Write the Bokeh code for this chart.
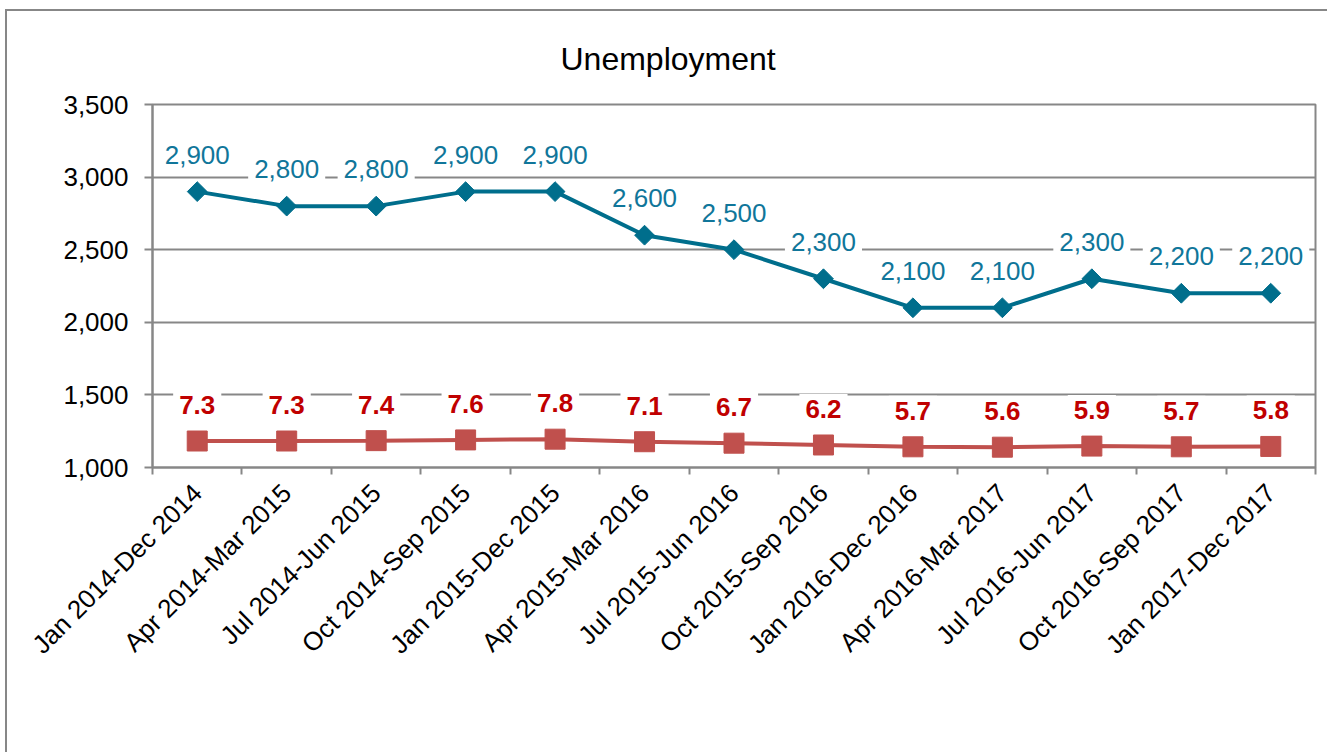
import math

from bokeh.core.properties import value
from bokeh.embed import file_html
from bokeh.models import (ColumnDataSource, FixedTicker, Legend, LegendItem,
                          NumeralTickFormatter, Range1d)
from bokeh.plotting import figure
from bokeh.resources import INLINE

# ---- data -------------------------------------------------------------
periods = [
    "Jan 2014-Dec 2014", "Apr 2014-Mar 2015", "Jul 2014-Jun 2015",
    "Oct 2014-Sep 2015", "Jan 2015-Dec 2015", "Apr 2015-Mar 2016",
    "Jul 2015-Jun 2016", "Oct 2015-Sep 2016", "Jan 2016-Dec 2016",
    "Apr 2016-Mar 2017", "Jul 2016-Jun 2017", "Oct 2016-Sep 2017",
    "Jan 2017-Dec 2017",
]
numbers = [2900, 2800, 2800, 2900, 2900, 2600, 2500, 2300, 2100, 2100, 2300, 2200, 2200]
rate_pct = [7.3, 7.3, 7.4, 7.6, 7.8, 7.1, 6.7, 6.2, 5.7, 5.6, 5.9, 5.7, 5.8]
y_ticks = [1000, 1500, 2000, 2500, 3000, 3500]

# ---- style ------------------------------------------------------------
TEAL = "#006E8C"
TEAL_TEXT = "#10769A"
RED = "#C0504D"
RED_TEXT = "#C00000"
GREY = "#878787"
FONT = "Liberation Sans"

idx = list(range(len(periods)))
src = ColumnDataSource(dict(
    x=idx,
    num=numbers,
    pct=rate_pct,
    num_lbl=[f"{v:,}" for v in numbers],
    pct_lbl=[f"{v:.1f}" for v in rate_pct],
))

p = figure(
    width=1320, height=741,
    frame_width=1163, frame_height=363,
    x_range=Range1d(-0.5, len(periods) - 0.5),
    y_range=Range1d(y_ticks[0], y_ticks[-1]),
    output_backend="svg", toolbar_location=None,
    min_border_left=145, min_border_right=12, min_border_top=93,
    min_border_bottom=0,
    margin=(9, 0, 0, 5),
)
# thin chart border
p.styles = {"border-left": f"2px solid {GREY}", "border-top": f"2px solid {GREY}"}
# percentage series rides on a hidden 0-100 scale
p.extra_y_ranges = {"pct": Range1d(0, 100)}

p.background_fill_color = "white"
p.border_fill_color = "white"
p.outline_line_color = GREY
p.outline_line_width = 2

# title
p.title.text = "Unemployment"
p.title.align = "left"
p.title.vertical_align = "top"
p.title.offset = 408
p.title.standoff = 52
p.title.text_font = FONT
p.title.text_font_size = "32px"
p.title.text_font_style = "normal"
p.title.text_color = "black"

# grid
p.xgrid.visible = False
p.ygrid.ticker = FixedTicker(ticks=y_ticks)
p.ygrid.grid_line_color = GREY
p.ygrid.grid_line_width = 2

# y axis
yax = p.yaxis[0]
yax.ticker = FixedTicker(ticks=y_ticks)
yax.formatter = NumeralTickFormatter(format="0,0")
yax.axis_line_color = GREY
yax.axis_line_width = 2
yax.major_tick_line_color = GREY
yax.major_tick_line_width = 2
yax.major_tick_out = 8
yax.major_tick_in = 0
yax.minor_tick_line_color = None
yax.major_label_standoff = 16
yax.major_label_text_font = FONT
yax.major_label_text_font_size = "26px"
yax.major_label_text_color = "black"

# x axis: labels at category centres, tick marks on the boundaries
xax = p.xaxis[0]
xax.ticker = FixedTicker(ticks=idx, minor_ticks=[i - 0.5 for i in range(len(periods) + 1)])
xax.major_label_overrides = {i: lbl for i, lbl in zip(idx, periods)}
xax.major_label_orientation = math.pi / 4
xax.axis_line_color = GREY
xax.axis_line_width = 2
xax.major_tick_line_color = None
xax.minor_tick_line_color = GREY
xax.minor_tick_line_width = 2
xax.minor_tick_out = 7
xax.minor_tick_in = 0
xax.major_label_standoff = 14
xax.major_label_text_font = FONT
xax.major_label_text_font_size = "26px"
xax.major_label_text_color = "black"

# series
l_num = p.line("x", "num", source=src, line_color=TEAL, line_width=4)
m_num = p.scatter("x", "num", source=src, marker="square", angle=math.pi / 4,
                  size=14, fill_color=TEAL, line_color=TEAL)
l_pct = p.line("x", "pct", source=src, line_color=RED, line_width=4, y_range_name="pct")
m_pct = p.scatter("x", "pct", source=src, marker="square", size=20,
                  fill_color=RED, line_color=RED, y_range_name="pct")

# data labels on white boxes
p.text("x", "num", text="num_lbl", source=src, text_align="center",
       text_baseline="middle", y_offset=-37, text_font=value(FONT),
       text_font_size="26px", text_color=TEAL_TEXT,
       background_fill_color="white", padding=6)
p.text("x", "pct", text="pct_lbl", source=src, text_align="center",
       text_baseline="middle", y_offset=-36, text_font=value(FONT),
       text_font_size="26px", text_font_style="bold", text_color=RED_TEXT,
       background_fill_color="white", padding=6, y_range_name="pct")

legend = Legend(
    items=[
        LegendItem(label="Numbers", renderers=[l_num, m_num]),
        LegendItem(label="% of 16+ economically active", renderers=[l_pct, m_pct]),
    ],
    orientation="horizontal", location=(206, 27),
    border_line_color=None, background_fill_alpha=0,
    label_text_font=FONT, label_text_font_size="20px",
    label_text_color="black", label_height=20,
    glyph_width=42, glyph_height=20, spacing=37, label_standoff=3,
    padding=2, margin=0,
)
p.add_layout(legend, "below")

open("out.html", "w").write(file_html(p, INLINE))
